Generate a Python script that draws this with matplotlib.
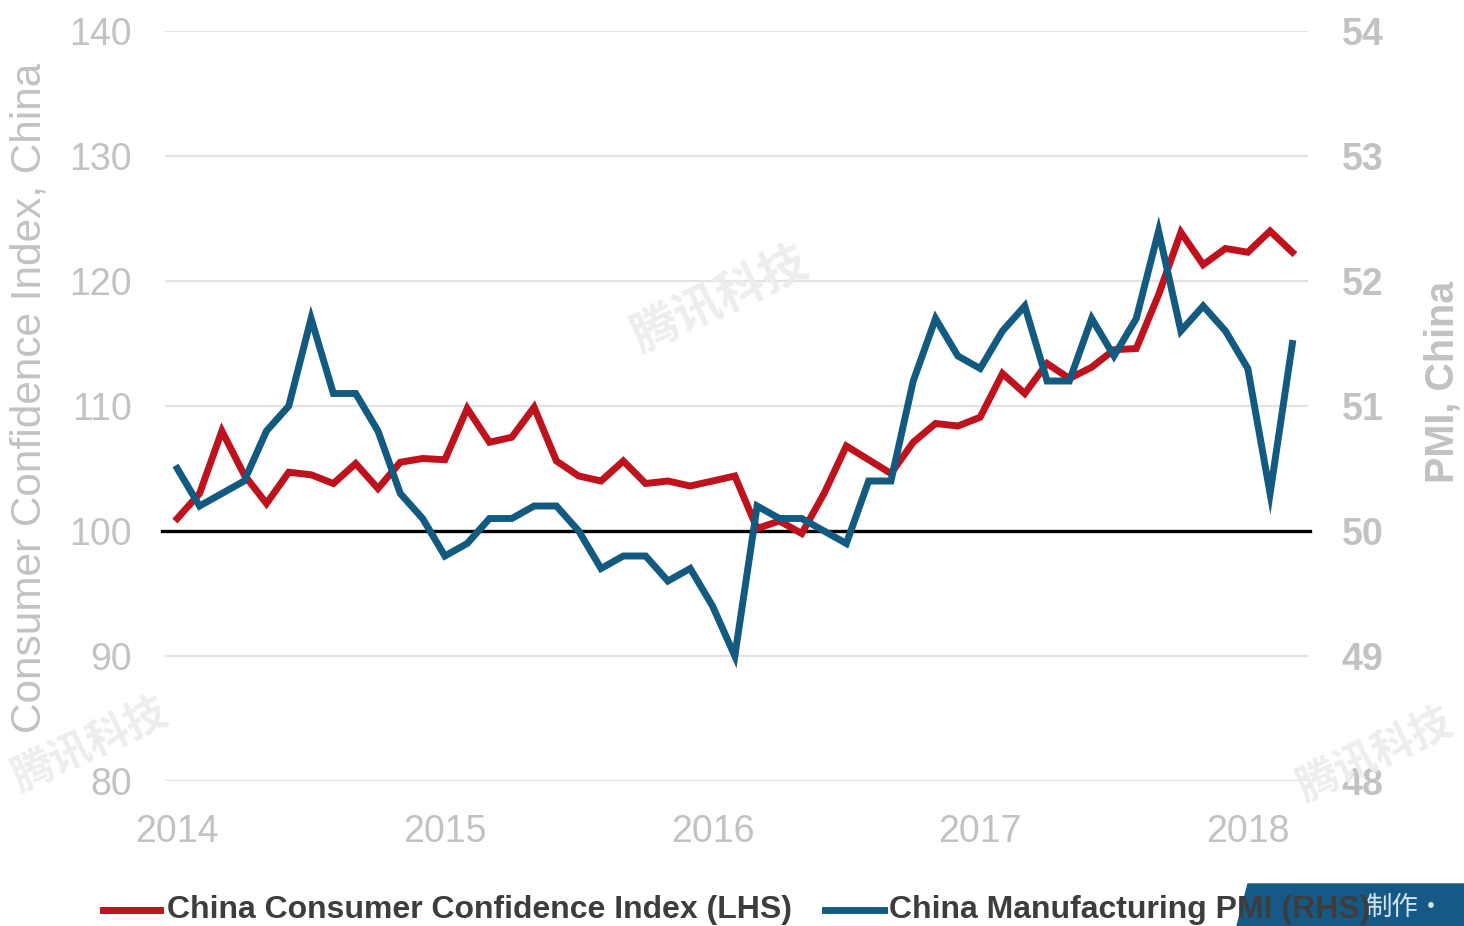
import matplotlib
matplotlib.use("Agg")
import matplotlib.pyplot as plt
from matplotlib.patches import Polygon
import numpy as np

# ---- data (monthly, Jan 2014 - Mar 2018) ----
consumer_confidence = [
    101.0, 103.0, 108.0, 104.5, 102.2, 104.7, 104.5, 103.8, 105.4, 103.4, 105.5, 105.8,   # 2014
    105.7, 109.8, 107.1, 107.5, 109.9, 105.6, 104.4, 104.0, 105.6, 103.8, 104.0, 103.6,   # 2015
    104.0, 104.4, 100.2, 100.8, 99.8, 103.0, 106.8, 105.7, 104.6, 107.1, 108.6, 108.4,    # 2016
    109.1, 112.6, 111.0, 113.4, 112.2, 113.1, 114.5, 114.6, 118.9, 123.9, 121.3, 122.6,   # 2017
    122.3, 124.0, 122.3,                                                                  # 2018
]
pmi = [
    50.5, 50.2, 50.3, 50.4, 50.8, 51.0, 51.7, 51.1, 51.1, 50.8, 50.3, 50.1,   # 2014
    49.8, 49.9, 50.1, 50.1, 50.2, 50.2, 50.0, 49.7, 49.8, 49.8, 49.6, 49.7,   # 2015
    49.4, 49.0, 50.2, 50.1, 50.1, 50.0, 49.9, 50.4, 50.4, 51.2, 51.7, 51.4,   # 2016
    51.3, 51.6, 51.8, 51.2, 51.2, 51.7, 51.4, 51.7, 52.4, 51.6, 51.8, 51.6,   # 2017
    51.3, 50.3, 51.5,                                                         # 2018
]
year_labels = ["2014", "2015", "2016", "2017", "2018"]
left_ticks = [80, 90, 100, 110, 120, 130, 140]
right_ticks = [48, 49, 50, 51, 52, 53, 54]
label_left = "Consumer Confidence Index, China"
label_right = "PMI, China"
legend_labels = ["China Consumer Confidence Index (LHS)", "China Manufacturing PMI (RHS)"]

RED = "#c0121c"
BLUE = "#135a80"
TICK_GREY = "#c2c2c2"
GRID_GREY = "#e3e3e3"

plt.rcParams["font.family"] = ["Liberation Sans", "DejaVu Sans"]

fig = plt.figure(figsize=(14.64, 9.26), dpi=100)
ax = fig.add_axes([165 / 1464, 1 - 781 / 926, (1308 - 165) / 1464, (781 - 31) / 926])
ax2 = ax.twinx()

x = np.arange(len(consumer_confidence))

# watermarks (faint)
wm_kw = dict(family=["Noto Sans CJK SC", "DejaVu Sans"], color="#ededed", rotation=25,
             ha="center", va="center", fontweight="bold", zorder=0)
fig.text(720 / 1464, 1 - 300 / 926, "腾讯科技", fontsize=34, **wm_kw)
fig.text(90 / 1464, 1 - 745 / 926, "腾讯科技", fontsize=30, **wm_kw)
fig.text(1375 / 1464, 1 - 755 / 926, "腾讯科技", fontsize=30, **wm_kw)

for t in left_ticks:
    if t == 100:
        continue
    ax.axhline(t, color=GRID_GREY, lw=1.6, zorder=1)
ax.axhline(100, color="black", lw=2.4, zorder=2, xmin=-0.003, xmax=1.002, clip_on=False)

ax.plot(x, consumer_confidence, color=RED, lw=5, solid_joinstyle="miter", zorder=3)
ax2.plot(x, pmi, color=BLUE, lw=5, solid_joinstyle="miter", zorder=4)

ax.set_xlim(-0.55, 50.7)
ax.set_ylim(80, 140)
ax2.set_ylim(48, 54)

ax.set_xticks([0, 12, 24, 36, 48])
ax.set_xticklabels(year_labels)
ax.set_yticks(left_ticks)
ax2.set_yticks(right_ticks)

for a in (ax, ax2):
    for s in a.spines.values():
        s.set_visible(False)
    a.set_facecolor("none")

ax.tick_params(axis="x", length=0, pad=24, labelsize=27, labelcolor=TICK_GREY)
ax.tick_params(axis="y", length=0, pad=24, labelsize=27, labelcolor=TICK_GREY)
ax2.tick_params(axis="y", length=0, pad=24, labelsize=27, labelcolor=TICK_GREY)
for lab in ax2.get_yticklabels():
    lab.set_fontweight("bold")

fig.text(30 / 1464, 1 - 398 / 926, label_left, rotation=90, ha="center", va="center",
         fontsize=30.5, color=TICK_GREY)
fig.text(1442 / 1464, 1 - 382 / 926, label_right, rotation=90, ha="center", va="center",
         fontsize=28.5, color=TICK_GREY, fontweight="bold")

# corner badge (behind legend text)
poly = Polygon([[1237 / 1464, 0], [1248 / 1464, 1 - 884 / 926], [1.0, 1 - 884 / 926], [1.0, 0]],
               closed=True, transform=fig.transFigure, color="#155a86", zorder=5)
fig.add_artist(poly)
fig.text(1405 / 1464, 1 - 907 / 926, "制作·", ha="center", va="center", fontsize=19,
         color="#d8e4ee", family=["Noto Sans CJK SC", "DejaVu Sans"], zorder=6)

# legend (manual, bottom)
ly = 1 - 910 / 926
fig.add_artist(plt.Line2D([103 / 1464, 160 / 1464], [ly, ly], color=RED, lw=5, zorder=7))
fig.text(167 / 1464, ly, legend_labels[0], ha="left", va="center", fontsize=23,
         color="#3d3d3d", fontweight="bold", zorder=7)
fig.add_artist(plt.Line2D([825 / 1464, 884 / 1464], [ly, ly], color=BLUE, lw=5, zorder=7))
fig.text(889 / 1464, ly, legend_labels[1], ha="left", va="center", fontsize=23,
         color="#3d3d3d", fontweight="bold", zorder=7)

fig.savefig("out.png", dpi=100)
